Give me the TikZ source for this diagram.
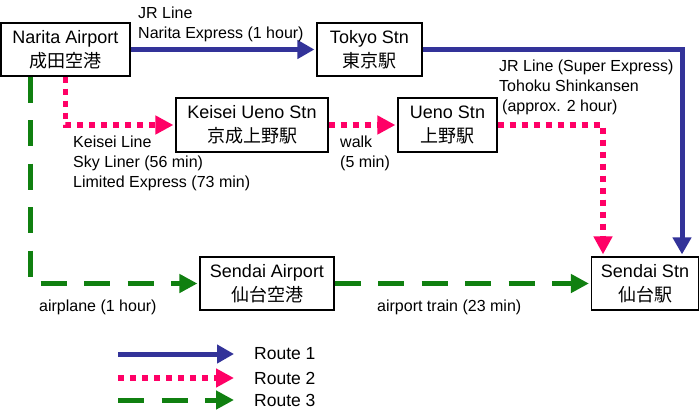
\documentclass[tikz,border=0pt]{standalone}
\usepackage{fontspec}
\setmainfont{Liberation Sans}
\newfontfamily\jp{Noto Sans CJK JP}
\usetikzlibrary{arrows.meta}
\definecolor{rblue}{RGB}{51,51,153}
\definecolor{rpink}{RGB}{255,0,102}
\definecolor{rgreen}{RGB}{16,128,16}
\begin{document}
\begin{tikzpicture}[x=1pt,y=-1pt,
 stn/.style={draw=black, line width=1.2pt, inner sep=0pt, align=center, font=\fontsize{18}{24}\selectfont},
 lbl/.style={anchor=west, align=left, inner sep=0pt, font=\fontsize{16}{20}\selectfont},
 leg/.style={anchor=west, inner sep=0pt, font=\fontsize{17.5}{20}\selectfont},
 r1/.style={draw=rblue, line width=5pt, -{Triangle[length=17pt,width=18pt]}, shorten >=2pt},
 r2/.style={draw=rpink, line width=5.5pt, dash pattern=on 6pt off 6pt, -{Triangle[length=18pt,width=18pt]}, shorten >=2pt},
 r3/.style={draw=rgreen, line width=5pt, dash pattern=on 26pt off 17.5pt, -{Triangle[length=18pt,width=18pt]}, shorten >=2pt},
]
\useasboundingbox (0,0) rectangle (700,415);
\node[stn, minimum width=129, minimum height=53] (narita) at (65.5,49.5) {Narita Airport\\{\jp 成田空港}};
\node[stn, minimum width=105, minimum height=53] (tokyo) at (369.5,49.5) {Tokyo Stn\\{\jp 東京駅}};
\node[stn, minimum width=152, minimum height=54] (keisei) at (252,125) {Keisei Ueno Stn\\{\jp 京成上野駅}};
\node[stn, minimum width=99, minimum height=54] (ueno) at (447.5,125) {Ueno Stn\\{\jp 上野駅}};
\node[stn, minimum width=134, minimum height=53] (sairport) at (267,283.5) {Sendai Airport\\{\jp 仙台空港}};
\node[stn, minimum width=107, minimum height=53] (sstn) at (645,283.5) {Sendai Stn\\{\jp 仙台駅}};

\draw[r1] (narita.east) -- (tokyo.west);
\draw[r1] (tokyo.east) -| ([xshift=37pt]sstn.north);
\draw[r2] (narita.south) |- (keisei.west);
\draw[r2] (keisei.east) -- (ueno.west);
\draw[r2] (ueno.east) -| ([xshift=-42pt]sstn.north);
\draw[r3] ([xshift=-35.5pt]narita.south) |- (sairport.west);
\draw[r3] (sairport.east) -- (sstn.west);

\node[lbl] (l1) at (138,24) {JR Line\\Narita Express (1 hour)};
\node[lbl] (l2) at (73,163) {Keisei Line\\Sky Liner (56 min)\\Limited Express (73 min)};
\node[lbl] (l3) at (340,153) {walk\\(5 min)};
\node[lbl] (l4) at (499,87) {JR Line (Super Express)\\Tohoku Shinkansen\\\hspace{3pt}(approx. 2 hour)};
\node[lbl] (l5) at (39,307) {airplane (1 hour)};
\node[lbl] (l6) at (377,307) {airport train (23 min)};

\coordinate (a1) at (118,354); \coordinate (b1) at (236,354);
\coordinate (a2) at (118,378); \coordinate (b2) at (236,378);
\coordinate (a3) at (118,400); \coordinate (b3) at (236,400);
\draw[r1] (a1) -- (b1);
\draw[r2] (a2) -- (b2);
\draw[r3] (a3) -- (b3);
\node[leg] (t1) at (254,354) {Route 1};
\node[leg] (t2) at (254,378) {Route 2};
\node[leg] (t3) at (254,400) {Route 3};
\end{tikzpicture}
\end{document}
